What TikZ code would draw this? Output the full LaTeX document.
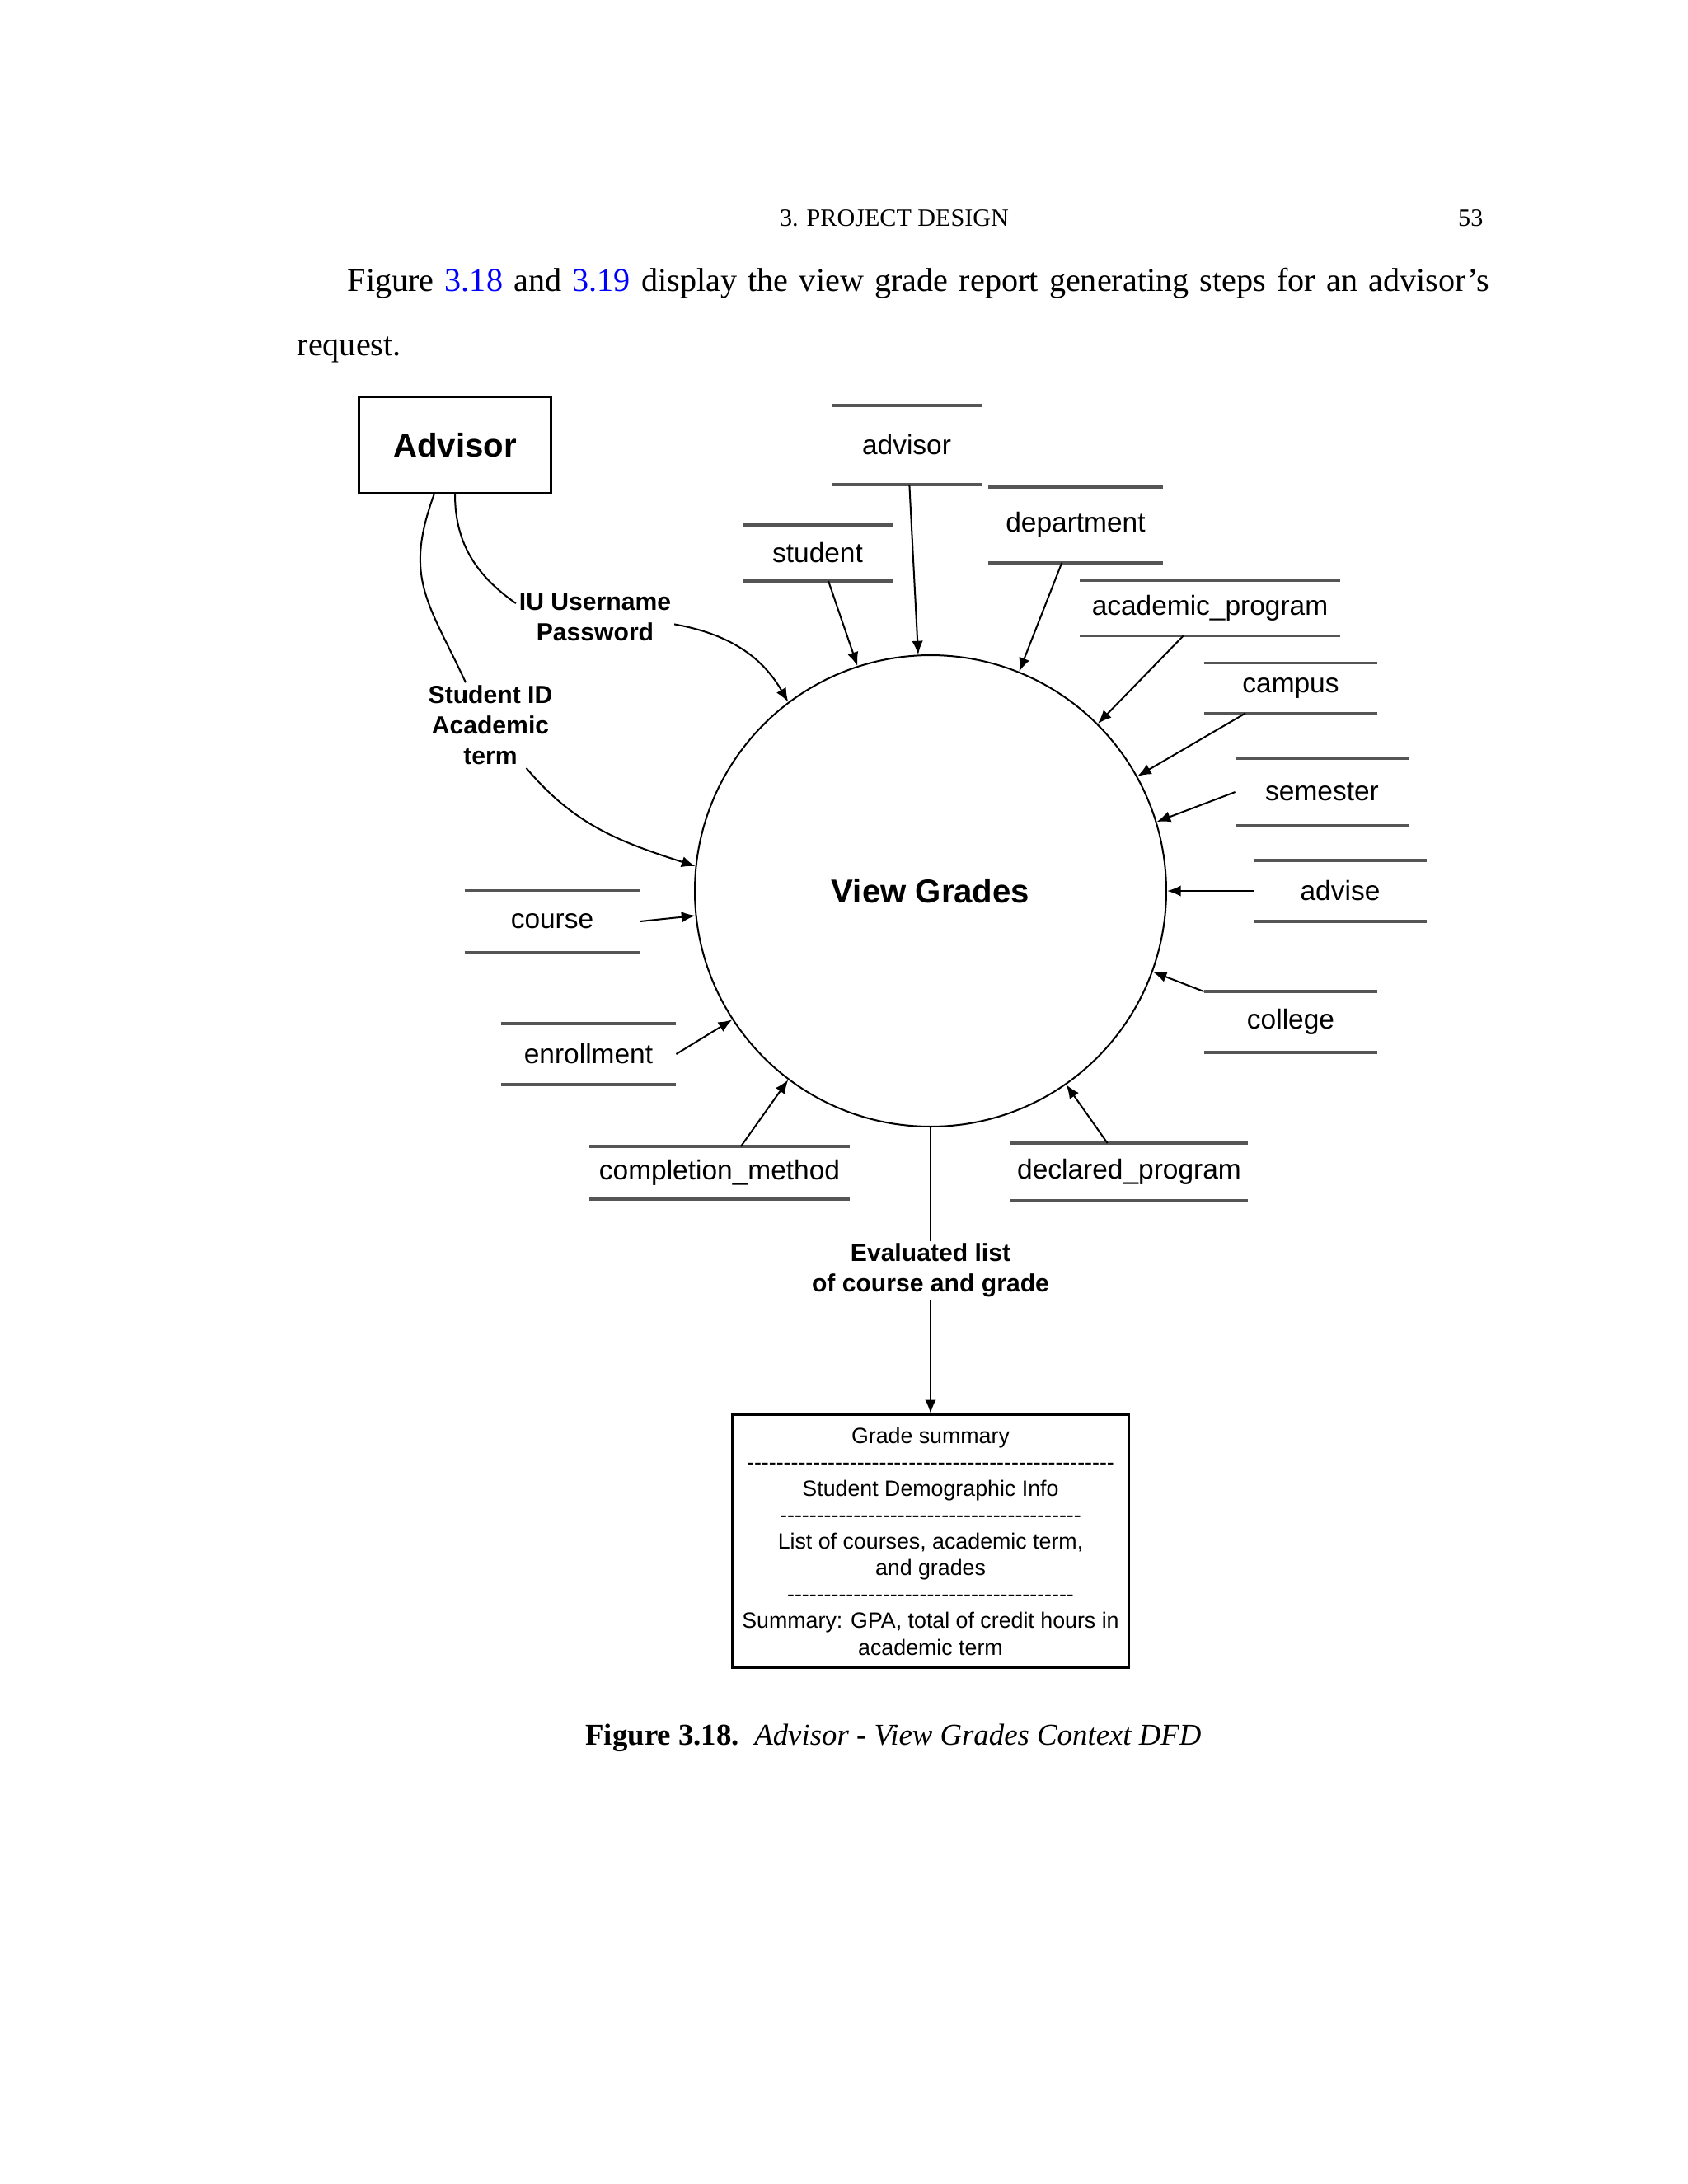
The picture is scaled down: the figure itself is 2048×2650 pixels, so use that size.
\documentclass[tikz,border=0pt]{standalone}
\usepackage{fontspec}
\setmainfont{Liberation Serif}
\newfontfamily\diafont{Liberation Sans}
\usepackage{tikz}
\usetikzlibrary{arrows.meta,positioning}
\definecolor{linkblue}{RGB}{0, 0, 255}
\definecolor{storegray}{RGB}{85, 85, 85}
\tikzstyle{entity} = [draw, line width=0.8pt, minimum width=69.6pt, minimum height=34.7pt, font=\diafont\bfseries\fontsize{12}{14}\selectfont]
\tikzstyle{process} = [circle, draw, line width=0.6pt, minimum size=170.9pt, inner sep=0pt, font=\diafont\bfseries\fontsize{12}{14}\selectfont]
\tikzstyle{store} = [inner sep=0pt, outer sep=0pt, font=\diafont\fontsize{10}{12}\selectfont]
\tikzstyle{storeline} = [draw=storegray, line width=1pt]
\tikzstyle{flowlbl} = [align=center, inner sep=1pt, font=\diafont\bfseries\fontsize{9}{11}\selectfont]
\tikzstyle{flow} = [draw, line width=0.6pt, -{Latex[length=5pt,width=4pt]}]
\tikzstyle{sumbox} = [draw, line width=0.8pt, minimum width=143.7pt, minimum height=91.7pt, align=center, font=\diafont\fontsize{8}{9.6}\selectfont]
\tikzstyle{pagetext} = [inner sep=0pt, font=\fontsize{12}{14}\selectfont]
\newcommand\hyrow[1]{\foreach \k in {1,...,#1}{-\kern0pt}}

\begin{document}
\begin{tikzpicture}[x=0.2988pt, y=0.2988pt]
\fill[white] (0,0) rectangle (2048,-2650);
\useasboundingbox (0,0) rectangle (2048,-2650);

% page text =============================
\node[pagetext, font=\fontsize{9}{11}\selectfont, anchor=base] (hdr) at (1085,-274) {3. PROJECT DESIGN};
\node[pagetext, font=\fontsize{9}{11}\selectfont, anchor=base east] (pgno) at (1800,-274) {53};
\node[pagetext, anchor=base west] (par1) at (421,-353) {\makebox[414pt][s]{Figure \textcolor{linkblue}{3.18} and \textcolor{linkblue}{3.19} display the view grade report generating steps for an advisor’s}};
\node[pagetext, anchor=base west] (par2) at (360,-431) {request.};

% entity and process =============================
\node[entity] (adv) at (552,-540) {Advisor};
\node[process] (vg) at (1129,-1081) {View Grades};

% data stores
\node[store, minimum width=54.1pt, minimum height=28.7pt] (sadvisor) at (1100,-540) {advisor};
\node[store, minimum width=54.1pt, minimum height=20.3pt] (sstudent) at (992,-671) {student};
\node[store, minimum width=63.6pt, minimum height=27.5pt] (sdept) at (1305,-637) {department};
\node[store, minimum width=94.4pt, minimum height=20pt] (sacad) at (1468,-738) {academic\_program};
\node[store, minimum width=63pt, minimum height=18.2pt] (scampus) at (1566,-835) {campus};
\node[store, minimum width=63pt, minimum height=24.2pt] (ssem) at (1604,-961) {semester};
\node[store, minimum width=63pt, minimum height=22.1pt] (sadvise) at (1626,-1081) {advise};
\node[store, minimum width=63pt, minimum height=22.1pt] (scollege) at (1566,-1240) {college};
\node[store, minimum width=85.8pt, minimum height=20.9pt] (sdecl) at (1370,-1422) {declared\_program};
\node[store, minimum width=94.4pt, minimum height=19.1pt] (scompl) at (873,-1423) {completion\_method};
\node[store, minimum width=63.6pt, minimum height=22.1pt] (senroll) at (714,-1279) {enrollment};
\node[store, minimum width=63.6pt, minimum height=22.4pt] (scourse) at (670,-1118) {course};

\foreach \s in {sadvisor,sstudent,sdept,sacad,scampus,ssem,sadvise,scollege,sdecl,scompl,senroll,scourse}
  \draw[storeline] (\s.north west) -- (\s.north east) (\s.south west) -- (\s.south east);

% output box
\node[sumbox] (gsum) at (1129,-1870) {Grade summary\\ \hyrow{50}\\ Student Demographic Info\\ \hyrow{41}\\ List of courses, academic term,\\ and grades\\ \hyrow{39}\\ Summary: GPA, total of credit hours in\\ academic term};

% flow labels
\node[flowlbl] (iu) at (722,-749) {IU Username\\Password};
\node[flowlbl] (sid) at (595,-880) {Student ID\\Academic\\term};

% edges
\draw[line width=0.6pt] (adv.south) to[out=-90, in=145] (iu.170);
\draw[flow] (iu.-5) to[out=-10, in=120] (vg.127);
\draw[line width=0.6pt] (adv.-113) to[out=-110, in=115, looseness=1.2] (sid.120);
\draw[flow] (sid.-50) to[out=-50, in=162] (vg.174);
\draw[flow] (sadvisor.-86) -- (vg.93);
\draw[flow] (sstudent.-69) -- (vg.108);
\draw[flow] (sdept.-110) -- (vg.68);
\draw[flow] (sacad.-134) -- (vg.45);
\draw[flow] (scampus.-151) -- (vg.29);
\draw[flow] (ssem.west) -- (vg.17.6);
\draw[flow] (sadvise.west) -- (vg.0);
\draw[flow] (scollege.north west) -- (vg.-20);
\draw[flow] (sdecl.127) -- (vg.-55);
\draw[flow] (scompl.51) -- (vg.233);
\draw[flow] (senroll.east) -- (vg.213);
\draw[flow] (scourse.east) -- (vg.186);
\draw[flow] (vg.south) -- node[flowlbl, fill=white] (evl) {Evaluated list\\of course and grade} (gsum.north);

% caption
\node[pagetext, font=\fontsize{11}{13}\selectfont, anchor=base] (cap) at (1084,-2117) {\textbf{Figure 3.18.}\enspace\textit{Advisor - View Grades Context DFD}};

\end{tikzpicture}
\end{document}
